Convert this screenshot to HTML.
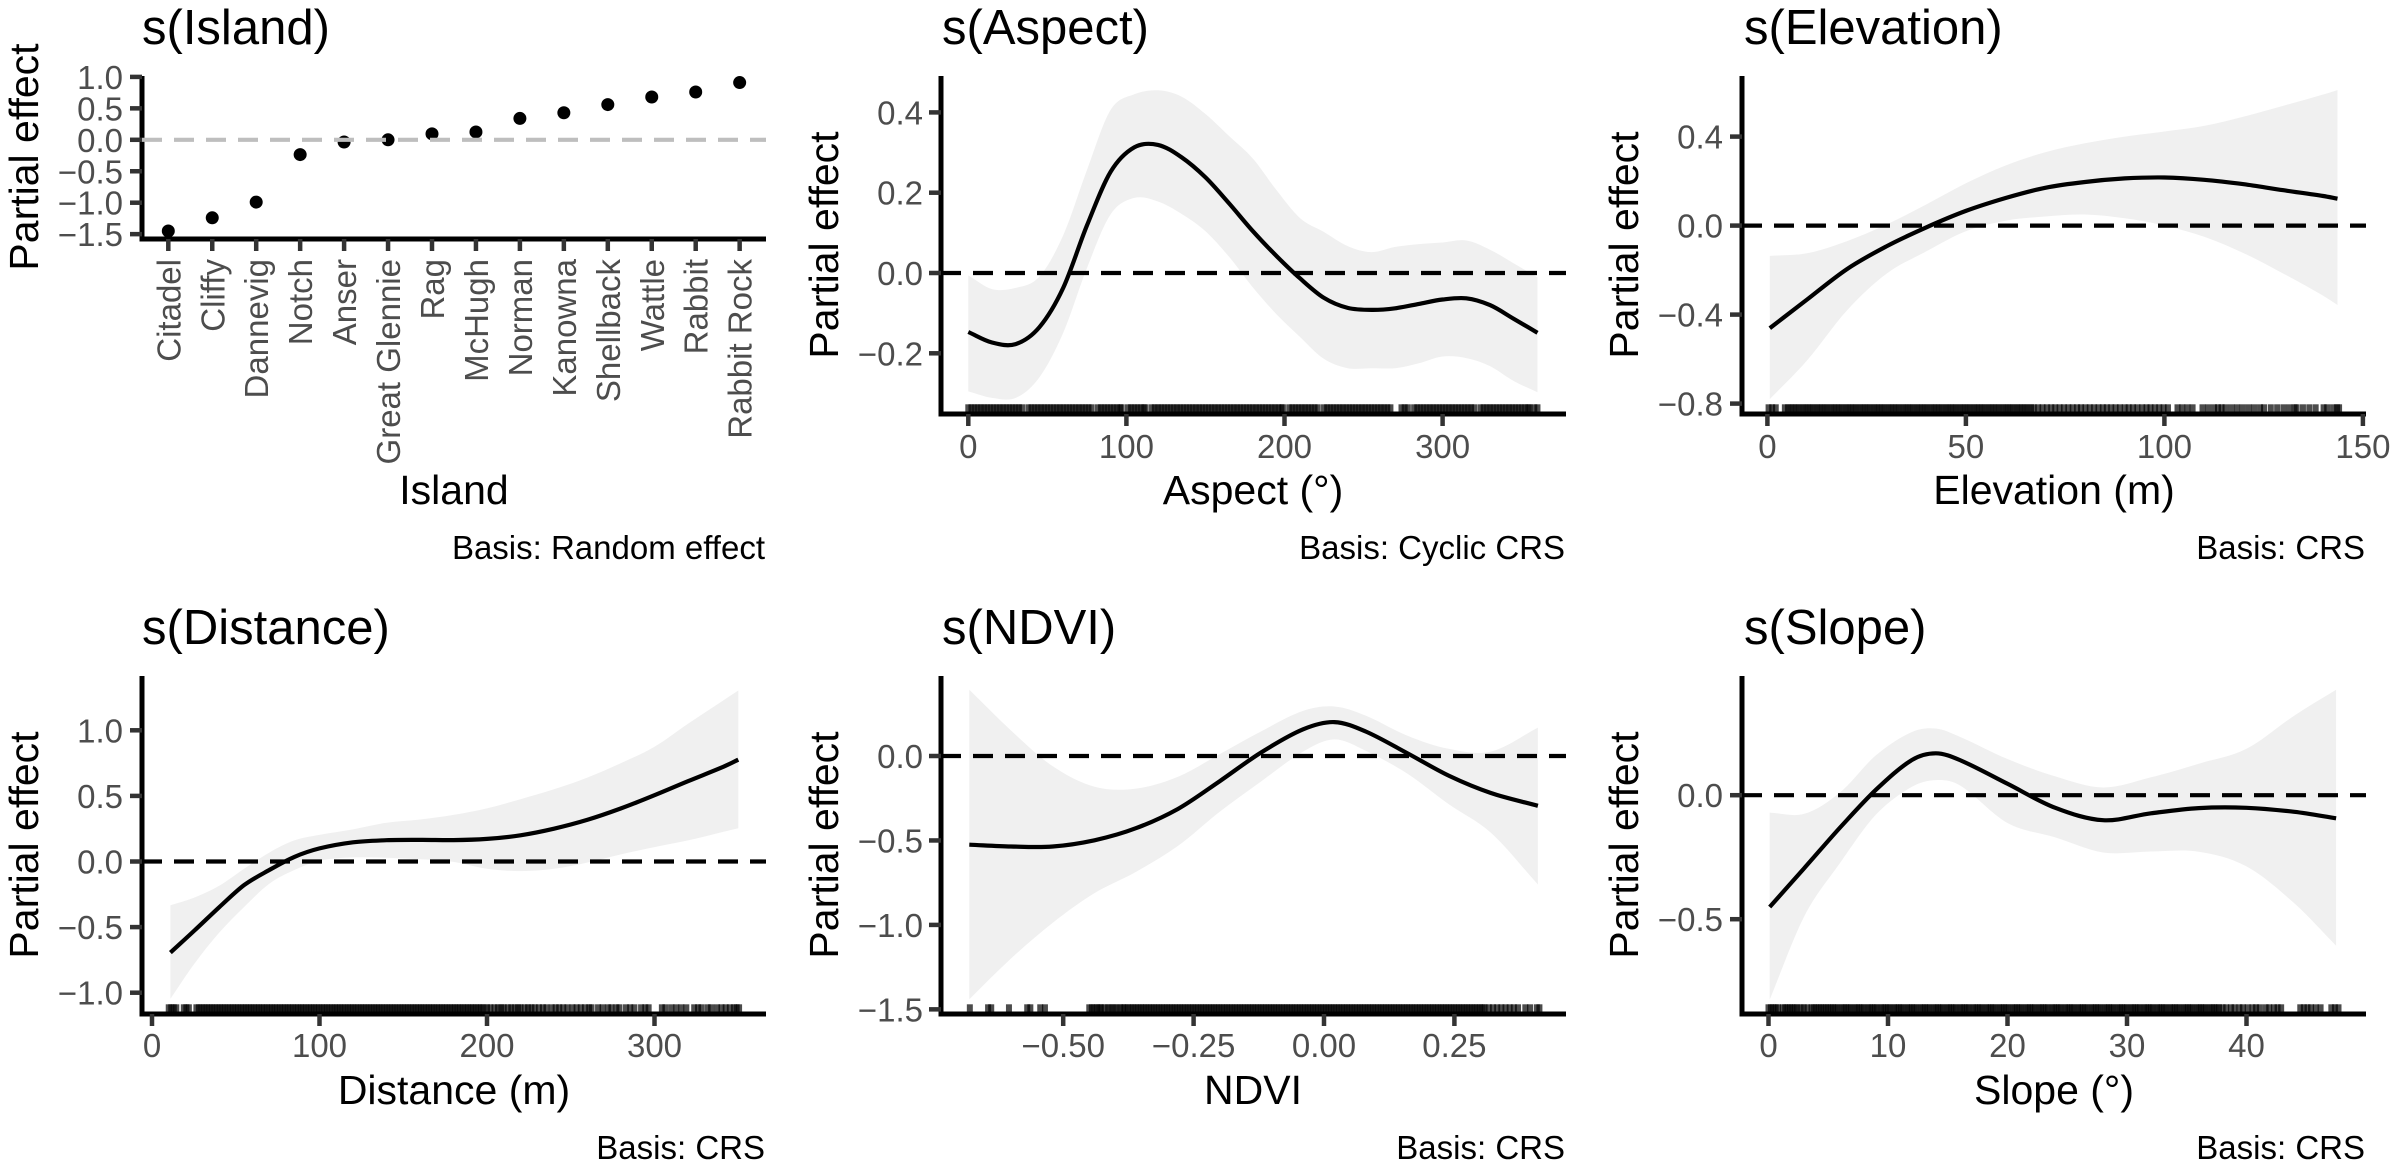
<!DOCTYPE html>
<html lang="en">
<head>
<meta charset="utf-8">
<title>GAM partial effects</title>
<style>
html,body{margin:0;padding:0;background:#fff;}
svg{display:block;}
text{font-family:"Liberation Sans",Arial,sans-serif;}
.title{font-size:49px;fill:#000;}
.axt{font-size:41px;fill:#000;}
.cap{font-size:33px;fill:#000;text-anchor:end;}
.tl{font-size:33px;fill:#4d4d4d;}
</style>
</head>
<body>
<svg id="figure" xmlns="http://www.w3.org/2000/svg" width="2395" height="1167" viewBox="0 0 2395 1167">
<rect width="2395" height="1167" fill="#fff"/>

<g id="panel-island">
<text class="title" x="142" y="44">s(Island)</text>
<text class="axt" transform="translate(38,157) rotate(-90)" text-anchor="middle">Partial effect</text>
<text class="axt" x="454" y="504" text-anchor="middle">Island</text>
<text class="cap" x="765" y="559">Basis: Random effect</text>
</g>

<g id="panel-aspect">
<text class="title" x="942" y="44">s(Aspect)</text>
<text class="axt" transform="translate(838,245) rotate(-90)" text-anchor="middle">Partial effect</text>
<text class="axt" x="1253" y="504" text-anchor="middle">Aspect (°)</text>
<text class="cap" x="1565" y="559">Basis: Cyclic CRS</text>
</g>

<g id="panel-elevation">
<text class="title" x="1744" y="44">s(Elevation)</text>
<text class="axt" transform="translate(1638,245) rotate(-90)" text-anchor="middle">Partial effect</text>
<text class="axt" x="2054" y="504" text-anchor="middle">Elevation (m)</text>
<text class="cap" x="2365" y="559">Basis: CRS</text>
</g>

<g id="panel-distance">
<text class="title" x="142" y="644">s(Distance)</text>
<text class="axt" transform="translate(38,845) rotate(-90)" text-anchor="middle">Partial effect</text>
<text class="axt" x="454" y="1104" text-anchor="middle">Distance (m)</text>
<text class="cap" x="765" y="1159">Basis: CRS</text>
</g>

<g id="panel-ndvi">
<text class="title" x="942" y="644">s(NDVI)</text>
<text class="axt" transform="translate(838,845) rotate(-90)" text-anchor="middle">Partial effect</text>
<text class="axt" x="1253" y="1104" text-anchor="middle">NDVI</text>
<text class="cap" x="1565" y="1159">Basis: CRS</text>
</g>

<g id="panel-slope">
<text class="title" x="1744" y="644">s(Slope)</text>
<text class="axt" transform="translate(1638,845) rotate(-90)" text-anchor="middle">Partial effect</text>
<text class="axt" x="2054" y="1104" text-anchor="middle">Slope (°)</text>
<text class="cap" x="2365" y="1159">Basis: CRS</text>
</g>
</svg>

<script>
/* ---------- Island panel data ---------- */
const islandCategories = ['Citadel','Cliffy','Dannevig','Notch','Anser','Great Glennie','Rag','McHugh','Norman','Kanowna','Shellback','Wattle','Rabbit','Rabbit Rock'];
const islandEffects = [-1.45,-1.24,-0.99,-0.235,-0.035,0.0,0.095,0.125,0.34,0.43,0.56,0.68,0.76,0.91];
const islandYTicks = [-1.5,-1,-0.5,0,0.5,1];
const islandYLabels = ['−1.5','−1.0','−0.5','0.0','0.5','1.0'];

/* ---------- Aspect panel data ---------- */
const aspectX = [0,15,30,45,60,75,90,105,120,135,150,165,180,195,210,225,240,255,270,285,300,315,330,345,360];
const aspectFit = [-.147,-.173,-.177,-.135,-.037,.118,.252,.313,.319,.288,.238,.173,.104,.042,-.014,-.062,-.087,-.092,-.088,-.077,-.066,-.063,-.080,-.114,-.149];
const aspectUpper = [-.006,-.040,-.037,-.009,.094,.256,.406,.445,.455,.439,.396,.341,.285,.206,.136,.102,.067,.052,.065,.072,.076,.081,.058,.024,-.011];
const aspectLower = [-.295,-.311,-.311,-.260,-.149,.012,.146,.187,.178,.147,.104,.040,-.036,-.103,-.160,-.214,-.237,-.237,-.237,-.225,-.208,-.212,-.232,-.269,-.297];
const aspectRug = [0,2,4,6,8,10,12,14,16,18,20,22,24,26,28,30,32,34,38,40,42,44,46,48,50,52,54,56,58,60,62,64,66,68,70,72,74,76,78,82,84,86,88,90,92,94,96,97,101,103,105,107,109,111,112,116,118,120,122,124,126,128,130,132,134,136,138,140,142,144,146,148,150,152,154,156,158,160,162,164,166,168,170,172,174,176,178,180,182,184,186,188,190,192,194,196,198,199,203,205,207,209,211,213,215,217,219,221,225,227,229,231,233,235,237,239,241,243,245,247,249,251,253,255,257,259,261,263,265,267,274,276,278,282,284,286,288,290,292,294,296,298,300,302,304,306,308,310,312,314,316,318,320,324,326,328,330,332,334,336,338,340,342,344,346,348,350,352,354,355,358,360];
const aspectXTicks = [0,100,200,300];
const aspectXLabels = ['0','100','200','300'];
const aspectYTicks = [-0.2,0,0.2,0.4];
const aspectYLabels = ['−0.2','0.0','0.2','0.4'];

/* ---------- Elevation panel data ---------- */
const elevationX = [0.6,10,20,30,40,50,60,70,80,90,100,110,120,130,140,143.6];
const elevationFit = [-.461,-.332,-.196,-.093,-.008,.066,.124,.170,.196,.212,.216,.206,.186,.159,.133,.121];
const elevationUpper = [-.136,-.124,-.070,.005,.095,.190,.270,.330,.370,.400,.423,.448,.490,.539,.589,.609];
const elevationLower = [-.780,-.606,-.382,-.216,-.116,-.025,.022,.041,.050,.033,0,-.050,-.124,-.216,-.315,-.357];
const elevationRug = [0.3,1.2,2.1,4.4,5.2,5.9,6.6,7.3,8,8.8,9.5,10.2,10.9,11.6,12.4,13.1,13.8,14.5,15.2,16,16.7,17.4,18.1,18.8,19.6,20.3,21,21.7,22.4,23.2,23.9,24.6,25.3,26,26.8,27.5,28.2,28.9,29.6,30.4,31.1,31.8,32.5,33.2,34,34.7,35.4,36.1,36.8,37.6,38.3,39,39.7,40.4,41.2,41.9,42.6,43.3,44,44.8,45.5,46.2,46.9,47.6,48.4,49.1,49.8,50.5,51.2,52,52.7,53.4,54.1,54.8,55.6,56.3,57,57.7,58.4,59.2,59.9,60.6,61.3,62,62.8,63.5,64.2,64.9,65.6,66.4,67.1,68.2,69.3,70.4,71.5,72.5,73.6,74.7,75.8,76.9,78,79,80.1,81.2,82.3,83.4,84.5,85.5,86.6,87.7,88.8,90,91,92.1,93.2,94.4,95.5,96.5,97.6,98.7,99.8,100.9,103.3,104.5,105.8,107.1,109.6,111,112.5,113.5,114.4,115.4,116.9,118.3,119.7,121.2,122.6,124.1,125.1,126.8,128.4,130,131.5,132.8,133.3,134.9,136.5,138.1,140.1,141,142.5,143.5,144];
const elevationXTicks = [0,50,100,150];
const elevationXLabels = ['0','50','100','150'];
const elevationYTicks = [-0.8,-0.4,0,0.4];
const elevationYLabels = ['−0.8','−0.4','0.0','0.4'];

/* ---------- Distance panel data ---------- */
const distanceX = [11,25,40,55,70,85,100,120,140,160,180,200,220,240,260,280,300,320,340,350];
const distanceFit = [-.694,-.530,-.350,-.180,-.065,.035,.100,.146,.162,.165,.163,.172,.200,.250,.318,.405,.505,.612,.716,.776];
const distanceUpper = [-.333,-.276,-.186,-.056,.068,.161,.203,.245,.295,.320,.355,.405,.475,.550,.640,.750,.875,1.050,1.219,1.303];
const distanceLower = [-1.047,-.784,-.544,-.347,-.169,-.065,.006,.031,.028,.017,-.003,-.056,-.073,-.056,-.008,.054,.110,.161,.223,.254];
const distanceRug = [10,11.5,13,14.5,19,20.5,22,26.5,28,29.6,31.2,32.7,34.3,35.8,37.4,39,40.5,42.1,43.6,45.2,46.8,48.3,49.9,51.4,53,54.6,56.1,57.7,59.2,60.8,62.4,63.9,65.5,67,68.6,70.2,71.7,73.3,74.8,76.4,78,79.5,81.1,82.6,84.2,85.8,87.3,88.9,90.4,92,93.6,95.1,96.7,98.2,99.8,101.4,102.9,104.5,106,107.6,109.2,110.7,112.3,113.8,115.4,117,118.5,120.1,121.6,123.2,124.8,126.3,127.9,129.4,131,132.6,134.1,135.7,137.2,138.8,140.4,141.9,143.5,145,146.6,148.2,149.7,151.3,152.8,154.4,156,157.5,159.1,160.6,162.2,163.8,165.3,166.9,168.4,170,171.6,173.1,174.7,176.2,177.8,179.4,180.9,182.5,184,185.6,187.2,188.7,190.3,191.8,193.4,195,196.5,198,200,202,204.5,206.5,208.5,210,212.5,214.5,216.5,218.5,220,222.5,224.5,226.5,228.5,231,233.4,235.5,238.6,241,243.1,245.5,248,251,253.5,256,258.5,261,262.4,266.3,269,272.2,274.3,277.2,279,282.9,285.5,288,292,294.5,296.5,304.4,306.5,310.1,313,316,319,323.7,326,328,331.7,333.8,337.3,340,342.5,345,347.5,349,350.5];
const distanceXTicks = [0,100,200,300];
const distanceXLabels = ['0','100','200','300'];
const distanceYTicks = [-1,-0.5,0,0.5,1];
const distanceYLabels = ['−1.0','−0.5','0.0','0.5','1.0'];

/* ---------- NDVI panel data ---------- */
const ndviX = [-.68,-.6,-.52,-.44,-.36,-.28,-.2,-.12,-.04,.02,.08,.16,.24,.32,.41];
const ndviFit = [-.525,-.536,-.536,-.499,-.427,-.313,-.149,.022,.158,.201,.145,.016,-.118,-.219,-.295];
const ndviUpper = [.392,.151,-.061,-.182,-.193,-.123,.011,.147,.267,.293,.239,.120,.042,.026,.168];
const ndviLower = [-1.44,-1.199,-.987,-.812,-.685,-.532,-.330,-.149,.026,.098,.031,-.105,-.287,-.455,-.761];
const ndviRug = [-.679,-.644,-.638,-.604,-.569,-.563,-.544,-.535,-.45,-.445,-.44,-.435,-.43,-.427,-.42,-.414,-.408,-.403,-.397,-.391,-.385,-.382,-.376,-.371,-.366,-.361,-.356,-.351,-.346,-.341,-.336,-.331,-.326,-.321,-.316,-.311,-.306,-.301,-.296,-.291,-.286,-.281,-.276,-.271,-.266,-.261,-.256,-.251,-.246,-.241,-.236,-.231,-.226,-.221,-.216,-.211,-.206,-.201,-.196,-.191,-.186,-.181,-.176,-.171,-.166,-.161,-.156,-.151,-.146,-.141,-.136,-.131,-.126,-.121,-.116,-.111,-.106,-.101,-.096,-.091,-.086,-.081,-.076,-.071,-.066,-.061,-.056,-.051,-.046,-.041,-.036,-.031,-.026,-.021,-.016,-.011,-.006,-.001,.004,.009,.014,.019,.024,.029,.034,.039,.044,.049,.054,.059,.064,.069,.074,.079,.084,.089,.094,.099,.104,.109,.114,.119,.124,.129,.134,.139,.144,.149,.154,.159,.164,.169,.174,.179,.184,.189,.194,.199,.204,.209,.214,.219,.224,.229,.234,.239,.244,.249,.254,.259,.264,.269,.274,.279,.284,.289,.294,.299,.304,.308,.316,.324,.332,.34,.348,.356,.364,.372,.386,.395,.408,.413];
const ndviXTicks = [-0.5,-0.25,0,0.25];
const ndviXLabels = ['−0.50','−0.25','0.00','0.25'];
const ndviYTicks = [-1.5,-1,-0.5,0];
const ndviYLabels = ['−1.5','−1.0','−0.5','0.0'];

/* ---------- Slope panel data ---------- */
const slopeX = [0.1,3,6,9,12,14,16,20,24,28,32,36,40,44,47.5];
const slopeFit = [-.451,-.294,-.130,.022,.142,.169,.142,.046,-.051,-.101,-.073,-.052,-.051,-.067,-.093];
const slopeUpper = [-.070,-.075,.012,.161,.255,.269,.236,.146,.076,.031,.072,.127,.187,.321,.425];
const slopeLower = [-.824,-.488,-.272,-.078,.034,.061,.040,-.112,-.170,-.231,-.227,-.228,-.287,-.436,-.607];
const slopeRug = [0,.2,.4,.6,.8,1.2,1.4,1.6,1.8,2,2.2,2.4,2.7,2.95,3.25,3.6,3.8,4,4.2,4.4,4.6,4.8,5,5.2,5.4,5.6,5.8,6.1,6.3,6.5,6.7,6.9,7.2,7.4,7.6,7.8,8,8.3,8.5,8.7,8.9,9.1,9.4,9.6,9.8,10,10.2,10.5,10.7,10.9,11.1,11.3,11.6,11.8,12,12.2,12.4,12.7,12.9,13.1,13.3,13.5,13.8,14,14.2,14.4,14.6,14.9,15.1,15.3,15.5,15.7,16,16.2,16.4,16.6,16.8,17.1,17.3,17.5,17.7,17.9,18.2,18.4,18.6,18.8,19,19.3,19.5,19.7,19.9,20.1,20.4,20.6,20.8,21,21.2,21.5,21.7,21.9,22.1,22.3,22.6,22.8,23,23.2,23.4,23.7,23.9,24.1,24.3,24.5,24.8,25,25.2,25.4,25.6,25.9,26.1,26.3,26.5,26.7,27,27.2,27.4,27.6,27.8,28.1,28.3,28.5,28.7,28.9,29.2,29.4,29.6,29.8,30,30.3,30.5,30.7,30.9,31.1,31.4,31.6,31.8,32,32.2,32.5,32.7,32.9,33.1,33.3,33.6,33.8,34,34.2,34.4,34.7,34.9,35.1,35.3,35.5,35.8,36,36.2,36.4,36.6,36.9,37.1,37.3,37.5,37.7,38,38.3,38.7,39,39.4,39.7,40.1,40.5,40.8,41.1,41.6,41.9,42.3,42.6,42.9,44.5,44.8,45.1,45.4,45.8,46.2,47.1,47.4,47.7];
const slopeXTicks = [0,10,20,30,40];
const slopeXLabels = ['0','10','20','30','40'];
const slopeYTicks = [-0.5,0];
const slopeYLabels = ['−0.5','0.0'];

/* ---------- Panel layout (pixel frames and axis anchors) ---------- */
const smoothPanels = [
  {id:'panel-aspect',x:aspectX,fit:aspectFit,up:aspectUpper,lo:aspectLower,rug:aspectRug,xt:aspectXTicks,xl:aspectXLabels,yt:aspectYTicks,yl:aspectYLabels,
   left:941,right:1566,top:76,bottom:414,x0:968.3,xk:1.581,y0:273,yk:401.5,labelRight:923,xLabelY:458},
  {id:'panel-elevation',x:elevationX,fit:elevationFit,up:elevationUpper,lo:elevationLower,rug:elevationRug,xt:elevationXTicks,xl:elevationXLabels,yt:elevationYTicks,yl:elevationYLabels,
   left:1742,right:2366,top:76,bottom:414,x0:1767.4,xk:3.97,y0:225.6,yk:222.5,labelRight:1723,xLabelY:458},
  {id:'panel-distance',x:distanceX,fit:distanceFit,up:distanceUpper,lo:distanceLower,rug:distanceRug,xt:distanceXTicks,xl:distanceXLabels,yt:distanceYTicks,yl:distanceYLabels,
   left:142,right:766,top:676,bottom:1014,x0:152,xk:1.675,y0:861.5,yk:131.2,labelRight:123,xLabelY:1057},
  {id:'panel-ndvi',x:ndviX,fit:ndviFit,up:ndviUpper,lo:ndviLower,rug:ndviRug,xt:ndviXTicks,xl:ndviXLabels,yt:ndviYTicks,yl:ndviYLabels,
   left:941,right:1566,top:676,bottom:1014,x0:1324,xk:521.6,y0:756,yk:168.9,labelRight:923,xLabelY:1057},
  {id:'panel-slope',x:slopeX,fit:slopeFit,up:slopeUpper,lo:slopeLower,rug:slopeRug,xt:slopeXTicks,xl:slopeXLabels,yt:slopeYTicks,yl:slopeYLabels,
   left:1742,right:2366,top:676,bottom:1014,x0:1768.5,xk:11.95,y0:795.2,yk:248,labelRight:1723,xLabelY:1057}
];
const islandFrame = {left:142,right:766,top:76,bottom:239,x0:168.3,step:43.95,y0:139.8,yk:62.9,labelRight:123,catLabelTop:259};

const NS = 'http://www.w3.org/2000/svg';

function mk(parent, tag, attrs) {
  const el = document.createElementNS(NS, tag);
  for (const k in attrs) el.setAttribute(k, attrs[k]);
  parent.appendChild(el);
  return el;
}

/* Non-uniform cubic Hermite through x-ordered points, emitted as Bezier segments */
function spline(pts) {
  const slope = i => {
    const a = pts[Math.max(i - 1, 0)], b = pts[Math.min(i + 1, pts.length - 1)];
    return (b[1] - a[1]) / (b[0] - a[0]);
  };
  let d = '';
  for (let i = 0; i < pts.length - 1; i++) {
    const p1 = pts[i], p2 = pts[i + 1], dx = (p2[0] - p1[0]) / 3;
    const c1x = p1[0] + dx, c1y = p1[1] + slope(i) * dx;
    const c2x = p2[0] - dx, c2y = p2[1] - slope(i + 1) * dx;
    d += ' C' + c1x.toFixed(1) + ' ' + c1y.toFixed(1) + ' ' + c2x.toFixed(1) + ' ' + c2y.toFixed(1) + ' ' + p2[0].toFixed(1) + ' ' + p2[1].toFixed(1);
  }
  return d;
}

function drawFrame(g, f) {
  const yLine = mk(g, 'line', {x1:f.left, x2:f.left, y1:f.top, y2:f.bottom + 2.5, stroke:'#000', 'stroke-width':5});
  
  
  const xLine = mk(g, 'line', {x1:f.left - 2.5, x2:f.right, y1:f.bottom, y2:f.bottom, stroke:'#000', 'stroke-width':5});
  
  
}

function drawYTicks(g, f, ticks, labels) {
  const y = v => f.y0 - v * f.yk;
  ticks.forEach((v, i) => {
    const tick = mk(g, 'line', {x1:f.left - 12, x2:f.left, y1:y(v), y2:y(v), stroke:'#333', 'stroke-width':4.5});
    
    
    const label = mk(g, 'text', {class:'tl', x:f.labelRight, y:y(v) + 12, 'text-anchor':'end'});
    label.textContent = labels[i];
    
    
  });
}

function drawZero(g, f, color) {
  const zero = mk(g, 'line', {x1:f.left, x2:f.right, y1:f.y0, y2:f.y0, stroke:color, 'stroke-width':4.2, 'stroke-dasharray':'20 12'});
  
  
}

function drawSmoothPanel(f) {
  const g = document.getElementById(f.id);
  const sx = v => f.x0 + v * f.xk;
  const sy = v => f.y0 - v * f.yk;
  const upPts = f.x.map((v, i) => [sx(v), sy(f.up[i])]);
  const loPts = f.x.map((v, i) => [sx(v), sy(f.lo[i])]).reverse();
  const fitPts = f.x.map((v, i) => [sx(v), sy(f.fit[i])]);

  const ribbon = mk(g, 'path', {
    d:'M' + upPts[0][0].toFixed(1) + ' ' + upPts[0][1].toFixed(1) + spline(upPts) +
      ' L' + loPts[0][0].toFixed(1) + ' ' + loPts[0][1].toFixed(1) + spline(loPts) + ' Z',
    fill:'#f0f0f0'
  });
  
  

  f.rug.forEach(v => {
    const mark = mk(g, 'line', {x1:sx(v), x2:sx(v), y1:f.bottom - 9.7, y2:f.bottom, stroke:'#000', 'stroke-width':6, 'stroke-opacity':0.7});
    
    
  });

  drawFrame(g, f);
  drawYTicks(g, f, f.yt, f.yl);

  f.xt.forEach((v, i) => {
    const tick = mk(g, 'line', {x1:sx(v), x2:sx(v), y1:f.bottom, y2:f.bottom + 12, stroke:'#333', 'stroke-width':4.5});
    
    
    const label = mk(g, 'text', {class:'tl', x:sx(v), y:f.xLabelY, 'text-anchor':'middle'});
    label.textContent = f.xl[i];
    
    
  });

  const curve = mk(g, 'path', {
    d:'M' + fitPts[0][0].toFixed(1) + ' ' + fitPts[0][1].toFixed(1) + spline(fitPts),
    fill:'none', stroke:'#000', 'stroke-width':4.2
  });
  
  

  drawZero(g, f, '#000');
}

function drawIslandPanel(f) {
  const g = document.getElementById('panel-island');
  const sx = i => f.x0 + i * f.step;
  const sy = v => f.y0 - v * f.yk;
  drawFrame(g, f);
  drawYTicks(g, f, islandYTicks, islandYLabels);
  islandCategories.forEach((name, i) => {
    const tick = mk(g, 'line', {x1:sx(i), x2:sx(i), y1:f.bottom, y2:f.bottom + 12, stroke:'#333', 'stroke-width':4.5});
    
    
    const label = mk(g, 'text', {class:'tl', 'text-anchor':'end', transform:'translate(' + (sx(i) + 12) + ',' + f.catLabelTop + ') rotate(-90)'});
    label.textContent = name;
    
    
    const dot = mk(g, 'circle', {cx:sx(i), cy:sy(islandEffects[i]), r:6.5, fill:'#000'});
    
    
  });
  drawZero(g, f, '#bebebe');
}

drawIslandPanel(islandFrame);
smoothPanels.forEach(drawSmoothPanel);
</script>
</body>
</html>
